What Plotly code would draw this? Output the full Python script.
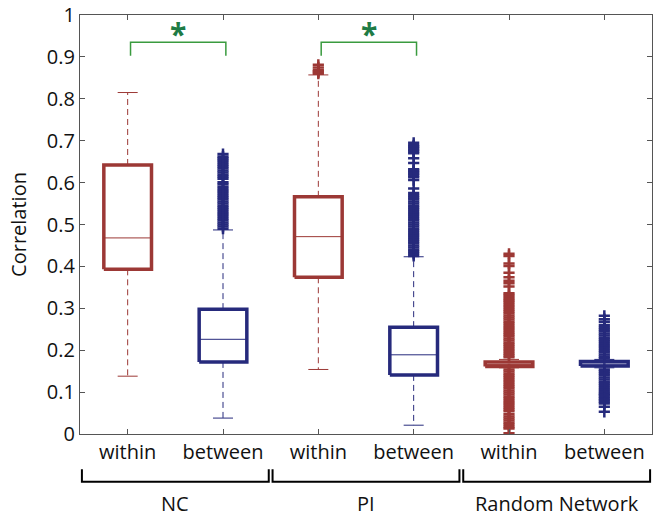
# Correlation within / between modules for NC, PI and a random network

import plotly.graph_objects as go

groups = ["NC", "PI", "Random Network"]
conditions = ["within", "between", "within", "between", "within", "between"]

q1 = [0.393, 0.172, 0.374, 0.141, 0.161, 0.162]
median = [0.468, 0.226, 0.471, 0.189, 0.166, 0.167]
q3 = [0.642, 0.298, 0.566, 0.255, 0.172, 0.173]
whisker_lo = [0.138, 0.038, 0.154, 0.021, 0.158, 0.158]
whisker_hi = [0.815, 0.487, 0.857, 0.423, 0.178, 0.178]

nc_within_out = []
nc_between_out = [0.490, 0.495, 0.500, 0.505, 0.510, 0.515, 0.520, 0.525, 0.530,
                  0.535, 0.540, 0.545, 0.550, 0.555, 0.560, 0.565, 0.570, 0.575,
                  0.580, 0.585, 0.590, 0.596, 0.601, 0.609, 0.614, 0.619, 0.624,
                  0.629, 0.634, 0.639, 0.644, 0.649, 0.654, 0.658, 0.662, 0.668]
pi_within_out = [0.860, 0.863, 0.866, 0.869, 0.875, 0.881]
pi_between_out = [0.425, 0.430, 0.435, 0.440, 0.445, 0.450, 0.455, 0.460, 0.465,
                  0.470, 0.475, 0.480, 0.485, 0.490, 0.495, 0.500, 0.505, 0.510,
                  0.515, 0.520, 0.525, 0.530, 0.535, 0.540, 0.545, 0.550, 0.555,
                  0.560, 0.565, 0.570, 0.575, 0.586, 0.606, 0.613, 0.617, 0.621,
                  0.625, 0.629, 0.632, 0.647, 0.658, 0.670, 0.674, 0.678, 0.682,
                  0.686, 0.689, 0.695]
rn_within_out = [0.430, 0.425, 0.407, 0.401, 0.385, 0.374, 0.366, 0.360, 0.352,
                 0.336, 0.332, 0.327, 0.322, 0.318, 0.313, 0.308, 0.303, 0.298,
                 0.293, 0.288, 0.283, 0.278, 0.273, 0.268, 0.263, 0.258, 0.253,
                 0.248, 0.243, 0.238, 0.233, 0.228, 0.223, 0.218, 0.213, 0.208,
                 0.203, 0.198, 0.193, 0.188, 0.183, 0.154, 0.149, 0.144, 0.139,
                 0.134, 0.129, 0.124, 0.119, 0.114, 0.109, 0.104, 0.099, 0.094,
                 0.089, 0.084, 0.079, 0.074, 0.069, 0.064, 0.059, 0.054, 0.047,
                 0.042, 0.037, 0.032, 0.027, 0.022, 0.017, 0.013, 0.002]
rn_between_out = [0.282, 0.274, 0.268, 0.260, 0.255, 0.250, 0.245, 0.240, 0.235,
                  0.230, 0.225, 0.220, 0.215, 0.210, 0.205, 0.200, 0.195, 0.190,
                  0.185, 0.181, 0.154, 0.150, 0.145, 0.140, 0.135, 0.130, 0.125,
                  0.120, 0.115, 0.110, 0.105, 0.100, 0.096, 0.093, 0.089, 0.085,
                  0.081, 0.077, 0.073, 0.065, 0.053]
outliers = [nc_within_out, nc_between_out, pi_within_out,
            pi_between_out, rn_within_out, rn_between_out]

sig_pairs = [(1, 2), (3, 4)]

RED = "#9C3835"
BLUE = "#262A7C"
colors = [RED, BLUE] * 3
positions = list(range(1, len(conditions) + 1))
hw = 0.25    # box half width
cw = 0.105   # whisker cap half width

fig = go.Figure()
for i, p in enumerate(positions):
    c = colors[i]
    # whiskers
    fig.add_trace(go.Scatter(x=[p, p, None, p, p],
                             y=[q3[i], whisker_hi[i], None, q1[i], whisker_lo[i]],
                             mode="lines", line=dict(color=c, width=1, dash="6px,4px")))
    fig.add_trace(go.Scatter(x=[p - cw, p + cw, None, p - cw, p + cw],
                             y=[whisker_hi[i], whisker_hi[i], None, whisker_lo[i], whisker_lo[i]],
                             mode="lines", line=dict(color=c, width=1)))
    # box
    fig.add_trace(go.Scatter(x=[p - hw, p + hw, p + hw, p - hw, p - hw],
                             y=[q1[i], q1[i], q3[i], q3[i], q1[i]],
                             mode="lines", line=dict(color=c, width=3.5)))
    fig.add_trace(go.Scatter(x=[p - hw, p + hw], y=[median[i], median[i]],
                             mode="lines", line=dict(color=c, width=1)))
    # outliers
    if outliers[i]:
        fig.add_trace(go.Scatter(x=[p] * len(outliers[i]), y=outliers[i], mode="markers",
                                 marker=dict(symbol="cross-thin", size=8,
                                             line=dict(color=c, width=2.5))))

# significance brackets
GREEN = "#3A9B3F"
for a, b in sig_pairs:
    fig.add_shape(type="path", xref="x", yref="y",
                  path=f"M {a + 0.03},0.903 L {a + 0.03},0.935 L {b + 0.03},0.935 L {b + 0.03},0.903",
                  line=dict(color=GREEN, width=1.5))
    fig.add_annotation(x=(a + b) / 2 + 0.03, y=0.955, text="<b>*</b>", showarrow=False,
                       font=dict(size=30, color="#1E7B45"), yanchor="middle")

# group braces below the axis
for g, name in enumerate(groups):
    x0 = 0.5 + 2 * g + 0.02
    x1 = 2.5 + 2 * g - 0.02
    fig.add_shape(type="path", xref="x", yref="paper",
                  path=f"M {x0},-0.084 L {x0},-0.114 L {x1},-0.114 L {x1},-0.084",
                  line=dict(color="black", width=2))
    fig.add_annotation(x=(x0 + x1) / 2, y=-0.165, xref="x", yref="paper", text=name,
                       showarrow=False, font=dict(size=20, color="#111"), yanchor="middle")

axis_common = dict(showline=True, linecolor="#555", linewidth=1.2, mirror="ticks",
                   ticks="inside", ticklen=5, tickcolor="#555", showgrid=False,
                   zeroline=False, automargin=False, tickfont=dict(size=20, color="#111"))
fig.update_xaxes(range=[0.5, 6.5], tickvals=positions, ticktext=conditions, **axis_common)
fig.update_yaxes(range=[0, 1], dtick=0.1, title_text="Correlation",
                 title_font=dict(size=20, color="#111"), title_standoff=14, **axis_common)
fig.update_layout(width=664, height=522, showlegend=False,
                  plot_bgcolor="white", paper_bgcolor="white",
                  font=dict(family="Open Sans", size=20, color="#111"),
                  margin=dict(l=80, r=12, t=15, b=88))
fig.write_html("out.html", config={"displayModeBar": False},
               post_script="document.body.style.margin = '0px';")
